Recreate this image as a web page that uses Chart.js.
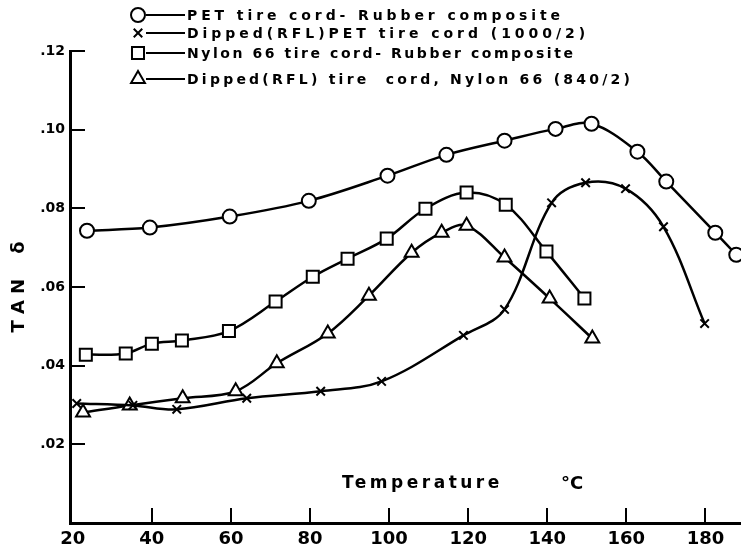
<!DOCTYPE html>
<html lang="en">
<head>
<meta charset="UTF-8" />
<title>Tan δ vs temperature</title>
<script src="https://cdn.jsdelivr.net/npm/chart.js"></script>
<style>
  html, body { margin: 0; padding: 0; background: #fff; }
</style>
</head>
<body>
<canvas id="chart" width="741" height="550"></canvas>
<script>
  // tan δ, temperature in °C
  const petCompT   = [23.6, 39.5, 59.7, 79.7, 99.6, 114.5, 129.2, 142.1, 151.2, 162.8, 170.1, 182.5, 187.8];
  const petCompTan = [0.0743, 0.0751, 0.0779, 0.0819, 0.0883, 0.0936, 0.0972, 0.1002, 0.1015, 0.0944, 0.0868, 0.0738, 0.0682];

  const petCordT   = [21.0, 35.2, 46.3, 64.0, 82.7, 98.1, 118.8, 129.2, 141.1, 149.7, 159.8, 169.4, 179.8];
  const petCordTan = [0.0304, 0.0299, 0.0289, 0.0317, 0.0335, 0.0360, 0.0477, 0.0543, 0.0814, 0.0865, 0.0850, 0.0753, 0.0507];

  const nylonCompT   = [23.3, 33.4, 40.0, 47.6, 59.5, 71.3, 80.7, 89.5, 99.4, 109.2, 119.6, 129.5, 139.8, 149.4];
  const nylonCompTan = [0.0428, 0.0431, 0.0456, 0.0464, 0.0488, 0.0563, 0.0626, 0.0672, 0.0723, 0.0799, 0.0840, 0.0809, 0.0690, 0.0571];

  const nylonCordT   = [22.6, 34.4, 47.8, 61.2, 71.6, 84.5, 94.9, 105.7, 113.3, 119.6, 129.2, 140.6, 151.4];
  const nylonCordTan = [0.0281, 0.0299, 0.0317, 0.0335, 0.0406, 0.0482, 0.0578, 0.0687, 0.0738, 0.0756, 0.0675, 0.0571, 0.0469];

  const seriesNames = [
    'PET tire cord- Rubber composite',
    'Dipped(RFL)PET tire cord (1000/2)',
    'Nylon 66 tire cord- Rubber composite',
    'Dipped(RFL) tire  cord, Nylon 66 (840/2)'
  ];

  const xTicks = [20, 40, 60, 80, 100, 120, 140, 160, 180];
  const yTicks = [0.02, 0.04, 0.06, 0.08, 0.10, 0.12];

  function series(label, xs, ys, style, radius) {
    return {
      label: label,
      data: xs.map((x, i) => ({ x: x, y: ys[i] })),
      borderColor: '#000',
      borderWidth: 2.5,
      pointStyle: style,
      pointRadius: radius,
      pointHoverRadius: radius,
      pointBackgroundColor: '#fff',
      pointBorderColor: '#000',
      pointBorderWidth: 2,
      tension: 0.35,
      fill: false
    };
  }

  // inward tick marks, the axis caption inside the plot, and the key at the top
  const extras = {
    id: 'extras',
    afterDraw(chart) {
      const ctx = chart.ctx;
      const area = chart.chartArea;
      const xs = chart.scales.x, ys = chart.scales.y;
      ctx.save();
      ctx.strokeStyle = '#000';
      ctx.lineWidth = 2;
      ctx.beginPath();
      xTicks.forEach(v => {
        const px = Math.round(xs.getPixelForValue(v));
        if (px - area.left < 6) return;
        ctx.moveTo(px, area.bottom);
        ctx.lineTo(px, area.bottom - 15);
      });
      yTicks.forEach(v => {
        const py = Math.round(ys.getPixelForValue(v));
        ctx.moveTo(area.left, py);
        ctx.lineTo(area.left + 15, py);
      });
      ctx.stroke();

      ctx.fillStyle = '#000';
      ctx.textBaseline = 'middle';
      ctx.font = 'bold 17px "DejaVu Sans"';
      ctx.letterSpacing = '3.5px';
      ctx.fillText('Temperature', 342, 484);
      ctx.letterSpacing = '0px';
      ctx.font = 'bold 18px "DejaVu Sans"';
      ctx.fillText('°C', 561, 484);

      // key: each line is spaced out to end where the printed one ends
      const rows = [15, 33, 53, 79];
      const ends = [560, 585, 573, 630];
      ctx.font = 'bold 14px "DejaVu Sans"';
      chart.data.datasets.forEach((ds, i) => {
        const y = rows[i];
        ctx.beginPath();
        ctx.moveTo(146, y);
        ctx.lineTo(185, y);
        ctx.lineWidth = 2;
        ctx.stroke();
        ctx.fillStyle = '#fff';
        Chart.helpers.drawPoint(ctx, {
          pointStyle: ds.pointStyle, radius: ds.pointRadius, rotation: 0, borderWidth: 2
        }, 138, y);
        ctx.fillStyle = '#000';
        const text = seriesNames[i];
        ctx.letterSpacing = '0px';
        const w = ctx.measureText(text).width;
        const gap = Math.max(0, (ends[i] - 187 - w) / (text.length - 1));
        ctx.letterSpacing = gap.toFixed(2) + 'px';
        ctx.fillText(text, 187, y + 1);
      });
      ctx.restore();
    }
  };

  new Chart(document.getElementById('chart'), {
    type: 'line',
    data: {
      datasets: [
        series(seriesNames[0], petCompT, petCompTan, 'circle', 7),
        series(seriesNames[1], petCordT, petCordTan, 'crossRot', 6),
        series(seriesNames[2], nylonCompT, nylonCompTan, 'rect', 8.5),
        series(seriesNames[3], nylonCordT, nylonCordTan, 'triangle', 8)
      ]
    },
    options: {
      responsive: false,
      animation: false,
      layout: { autoPadding: false, padding: { top: 51, left: 0, right: 0, bottom: 0 } },
      plugins: { legend: { display: false }, tooltip: { enabled: false } },
      scales: {
        x: {
          type: 'linear',
          min: 19.3,
          max: 189,
          afterBuildTicks: s => { s.ticks = xTicks.map(v => ({ value: v })); },
          afterFit: s => { s.height = 27; },
          grid: { display: false, drawTicks: false },
          border: { display: true, color: '#000', width: 3 },
          ticks: {
            color: '#000',
            padding: 6,
            maxRotation: 0,
            font: { family: 'DejaVu Sans', size: 18, weight: 'bold' }
          }
        },
        y: {
          min: 0,
          max: 0.12,
          afterBuildTicks: s => { s.ticks = yTicks.map(v => ({ value: v })); },
          afterFit: s => { s.width = 70; },
          grid: { display: false, drawTicks: false },
          border: { display: true, color: '#000', width: 3 },
          ticks: {
            color: '#000',
            padding: 5,
            font: { family: 'DejaVu Sans', size: 14, weight: 'bold' },
            callback: v => v.toFixed(2).replace(/^0/, '')
          },
          title: {
            display: true,
            text: 'T A N    δ',
            color: '#000',
            padding: { top: 9, bottom: 0 },
            font: { family: 'DejaVu Sans', size: 18, weight: 'bold' }
          }
        }
      }
    },
    plugins: [extras]
  });
</script>
</body>
</html>
